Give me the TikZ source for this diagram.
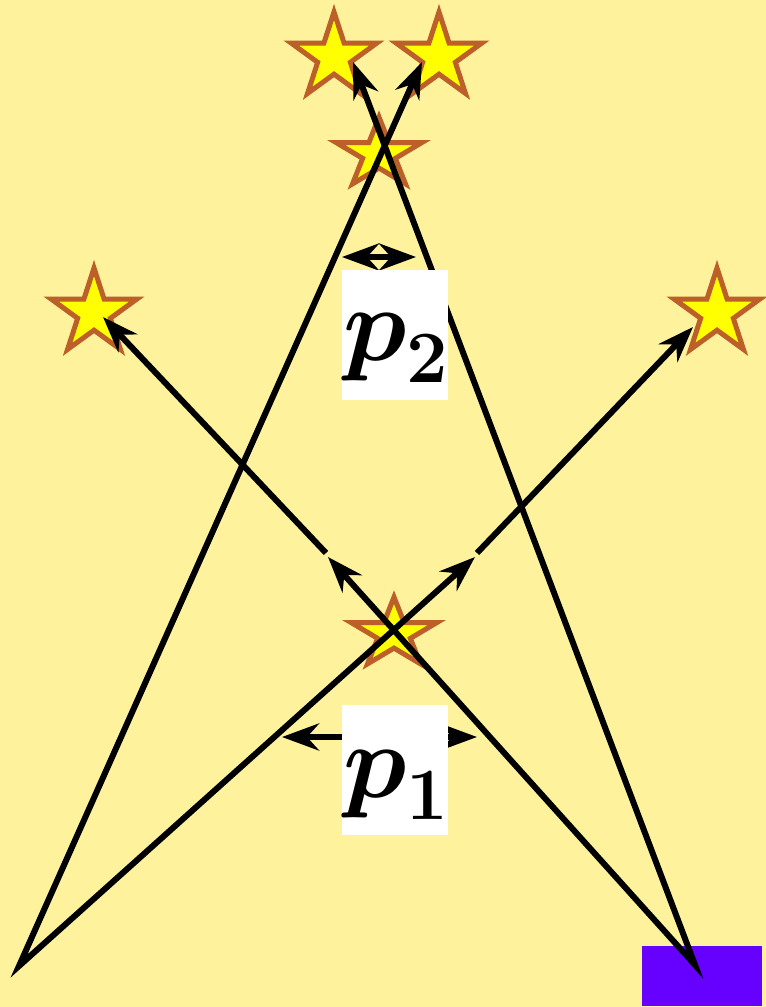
\RequirePackage{fix-cm}
\documentclass[tikz,border=0pt]{standalone}
\usepackage{xcolor}
\usepackage{tikz}
\usetikzlibrary{arrows.meta,shapes.geometric}
\definecolor{paleyellow}{RGB}{254,242,157}
\definecolor{starbrown}{RGB}{188,95,40}
\definecolor{starfill}{RGB}{255,255,0}
\definecolor{detectorviolet}{RGB}{102,0,255}
\newcommand{\lowsub}[1]{\raisebox{-4pt}{$\scriptstyle #1$}}
\tikzset{
  star-node/.style={star, star points=5, star point ratio=2.618, draw=starbrown,
    fill=starfill, line width=0.1cm, minimum size=1.8cm, inner sep=0pt},
  ray-arrow/.style={-{Stealth[length=0.72cm, width=0.52cm]}, line width=0.12cm, draw=black},
  ray-both/.style={{Stealth[length=0.72cm, width=0.52cm]}-{Stealth[length=0.72cm, width=0.52cm]},
    line width=0.12cm, draw=black},
  span-arrow/.style={{Stealth[length=0.74cm, width=0.54cm]}-{Stealth[length=0.74cm, width=0.54cm]},
    line width=0.12cm, draw=black},
  label-box/.style={fill=white, minimum width=2.12cm, minimum height=2.6cm, inner sep=0pt},
  math-label/.style={font=\fontsize{60}{60}\selectfont\boldmath, inner sep=0pt, anchor=base west},
  detector-box/.style={fill=detectorviolet, minimum width=2.4cm, minimum height=1.2cm, inner sep=0pt}
}
\begin{document}
\begin{tikzpicture}[x=0.02cm, y=-0.02cm]
% background
\fill[paleyellow] (0,0) rectangle (766,1007);
\useasboundingbox (0,0) rectangle (766,1007);

% detector at the lower right
\node[detector-box] (detector) at (702,976) {};

% stars
\node[star-node] (starTL) at (334,57) {};
\node[star-node] (starTR) at (439,57) {};
\node[star-node] (starUL) at (94,313) {};
\begin{scope}[shift={(379,154)}, yscale=0.82]
  \node[star-node, transform shape] (starMid) at (0,0) {};
\end{scope}
\begin{scope}[shift={(394,634)}, yscale=0.82]
  \node[star-node, transform shape] (starLow) at (0,0) {};
\end{scope}

% sources and arrow ends
\coordinate (srcL) at (19,966);
\coordinate (srcR) at (695,965);
\coordinate (tipTL) at (353,62);
\coordinate (tipTR) at (422,62);
\coordinate (midL) at (328,557);
\coordinate (midR) at (475,557);
\coordinate (resumeL) at (326,553);
\coordinate (resumeR) at (477,553);
\coordinate (tipUL) at (103,317);
\coordinate (tipUR) at (693,327);

% rays
\draw[ray-both] (tipTR) -- (srcL) -- (midR);
\draw[ray-both] (tipTL) -- (srcR) -- (midL);
\draw[ray-arrow] (resumeL) -- (tipUL);
\draw[ray-arrow] (resumeR) -- (tipUR);

% separations
\coordinate (spanTwoL) at (342,257);
\coordinate (spanTwoR) at (416,257);
\coordinate (spanOneL) at (282,737);
\coordinate (spanOneR) at (477,737);
\draw[span-arrow] (spanTwoL) -- (spanTwoR);
\draw[span-arrow] (spanOneL) -- (spanOneR);

% labels
\node[label-box] (boxP2) at (395,335) {};
\node[math-label] (labelP2) at (343,360) {$p_{\lowsub{2}}$};
\node[label-box] (boxP1) at (395,770) {};
\node[math-label] (labelP1) at (343,797) {$p_{\lowsub{1}}$};

% star that sits over its ray
\node[star-node] (starUR) at (717,313) {};
\end{tikzpicture}
\end{document}
